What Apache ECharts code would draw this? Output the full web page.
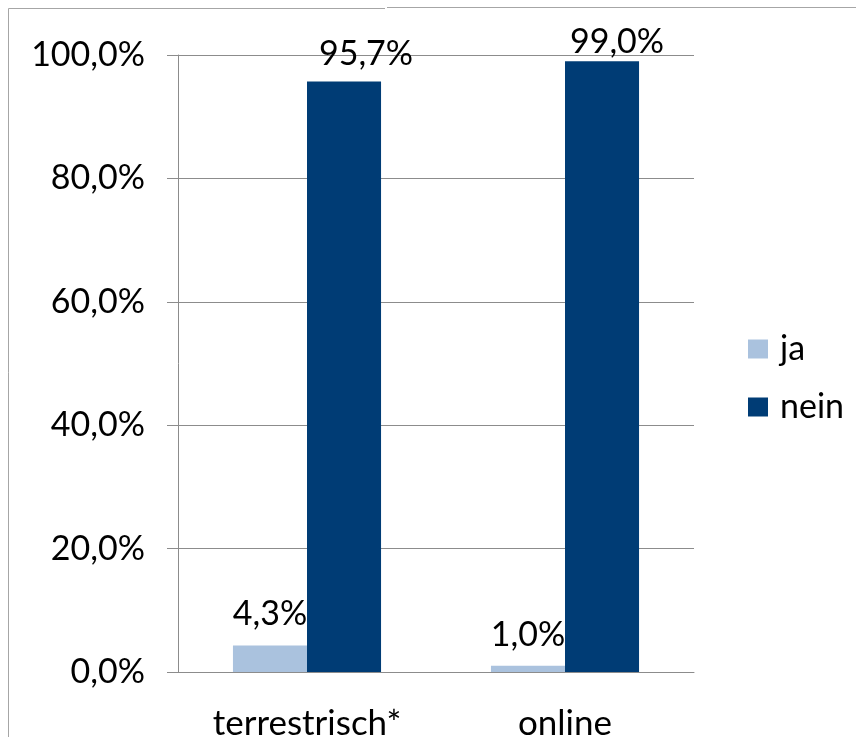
<!DOCTYPE html>
<html><head><meta charset="utf-8">
<script src="https://cdn.jsdelivr.net/npm/echarts@6/dist/echarts.min.js"></script>
<style>html,body{margin:0;padding:0;background:#fff}#c{width:856px;height:737px}</style>
</head><body><div id="c"></div>
<script>
const categories = ['terrestrisch*', 'online'];
const seriesNames = ['ja', 'nein'];
const jaValues = [4.3, 1.0];
const neinValues = [95.7, 99.0];
const yTicks = [0, 20, 40, 60, 80, 100];

const FONT = 'Lato';
const FS = 34;
const fmt = v => v.toFixed(1).replace('.', ',') + '%';
// label placement tweaks (style only)
const jaLabelPos = [{dist: 14, dx: 0}, {dist: 14, dx: 0}];
const neinLabelPos = [{dist: 10, dx: 22}, {dist: 2, dx: 15}];
const mkData = (vals, pos) => vals.map((v, i) => ({value: v, label: {distance: pos[i].dist, offset: [pos[i].dx, 0]}}));

const chart = echarts.init(document.getElementById('c'), null, {renderer: 'canvas'});
chart.setOption({
  animation: false,
  backgroundColor: '#fff',
  textStyle: {fontFamily: FONT},
  grid: {left: 178, right: 162, top: 55, bottom: 65, containLabel: false, outerBoundsMode: 'none'},
  legend: {
    orient: 'vertical', left: 743, top: 327,
    itemWidth: 20, itemHeight: 19, itemGap: 24,
    icon: 'rect',
    textStyle: {fontSize: FS, color: '#000', fontFamily: FONT, padding: [0, 0, 0, 7]},
    data: seriesNames
  },
  xAxis: {
    type: 'category', data: categories,
    axisLine: {lineStyle: {color: '#8c8c8c', width: 1}},
    axisTick: {length: 11, lineStyle: {color: '#8c8c8c'}},
    axisLabel: {fontSize: 35, color: '#000', margin: 34, fontFamily: FONT}
  },
  yAxis: {
    type: 'value', min: yTicks[0], max: yTicks[yTicks.length - 1], interval: 20,
    axisLine: {show: true, lineStyle: {color: '#8c8c8c', width: 1}},
    axisTick: {show: true, length: 11, lineStyle: {color: '#8c8c8c'}},
    splitLine: {lineStyle: {color: '#8c8c8c', width: 1}},
    axisLabel: {fontSize: FS, color: '#000', margin: 33, formatter: fmt, fontFamily: FONT}
  },
  series: [
    {
      name: seriesNames[0], type: 'bar', data: mkData(jaValues, jaLabelPos),
      barGap: '0%', barCategoryGap: '42.6%',
      itemStyle: {color: '#AAC2DE'},
      label: {show: true, position: 'top', fontSize: FS, color: '#000', formatter: p => fmt(p.value), fontFamily: FONT}
    },
    {
      name: seriesNames[1], type: 'bar', data: mkData(neinValues, neinLabelPos),
      barGap: '0%', barCategoryGap: '42.6%',
      itemStyle: {color: '#003C75'},
      label: {show: true, position: 'top', fontSize: FS, color: '#000', formatter: p => fmt(p.value), fontFamily: FONT}
    }
  ],
  graphic: [
    {type: 'polyline', shape: {points: [[8.5, 737], [8.5, 8.5], [385, 8.5]]}, style: {stroke: '#a6a6a6', lineWidth: 1, fill: null}},
    {type: 'line', shape: {x1: 387, y1: 7.5, x2: 856, y2: 7.5}, style: {stroke: '#a6a6a6', lineWidth: 1}}
  ]
});
</script></body></html>
